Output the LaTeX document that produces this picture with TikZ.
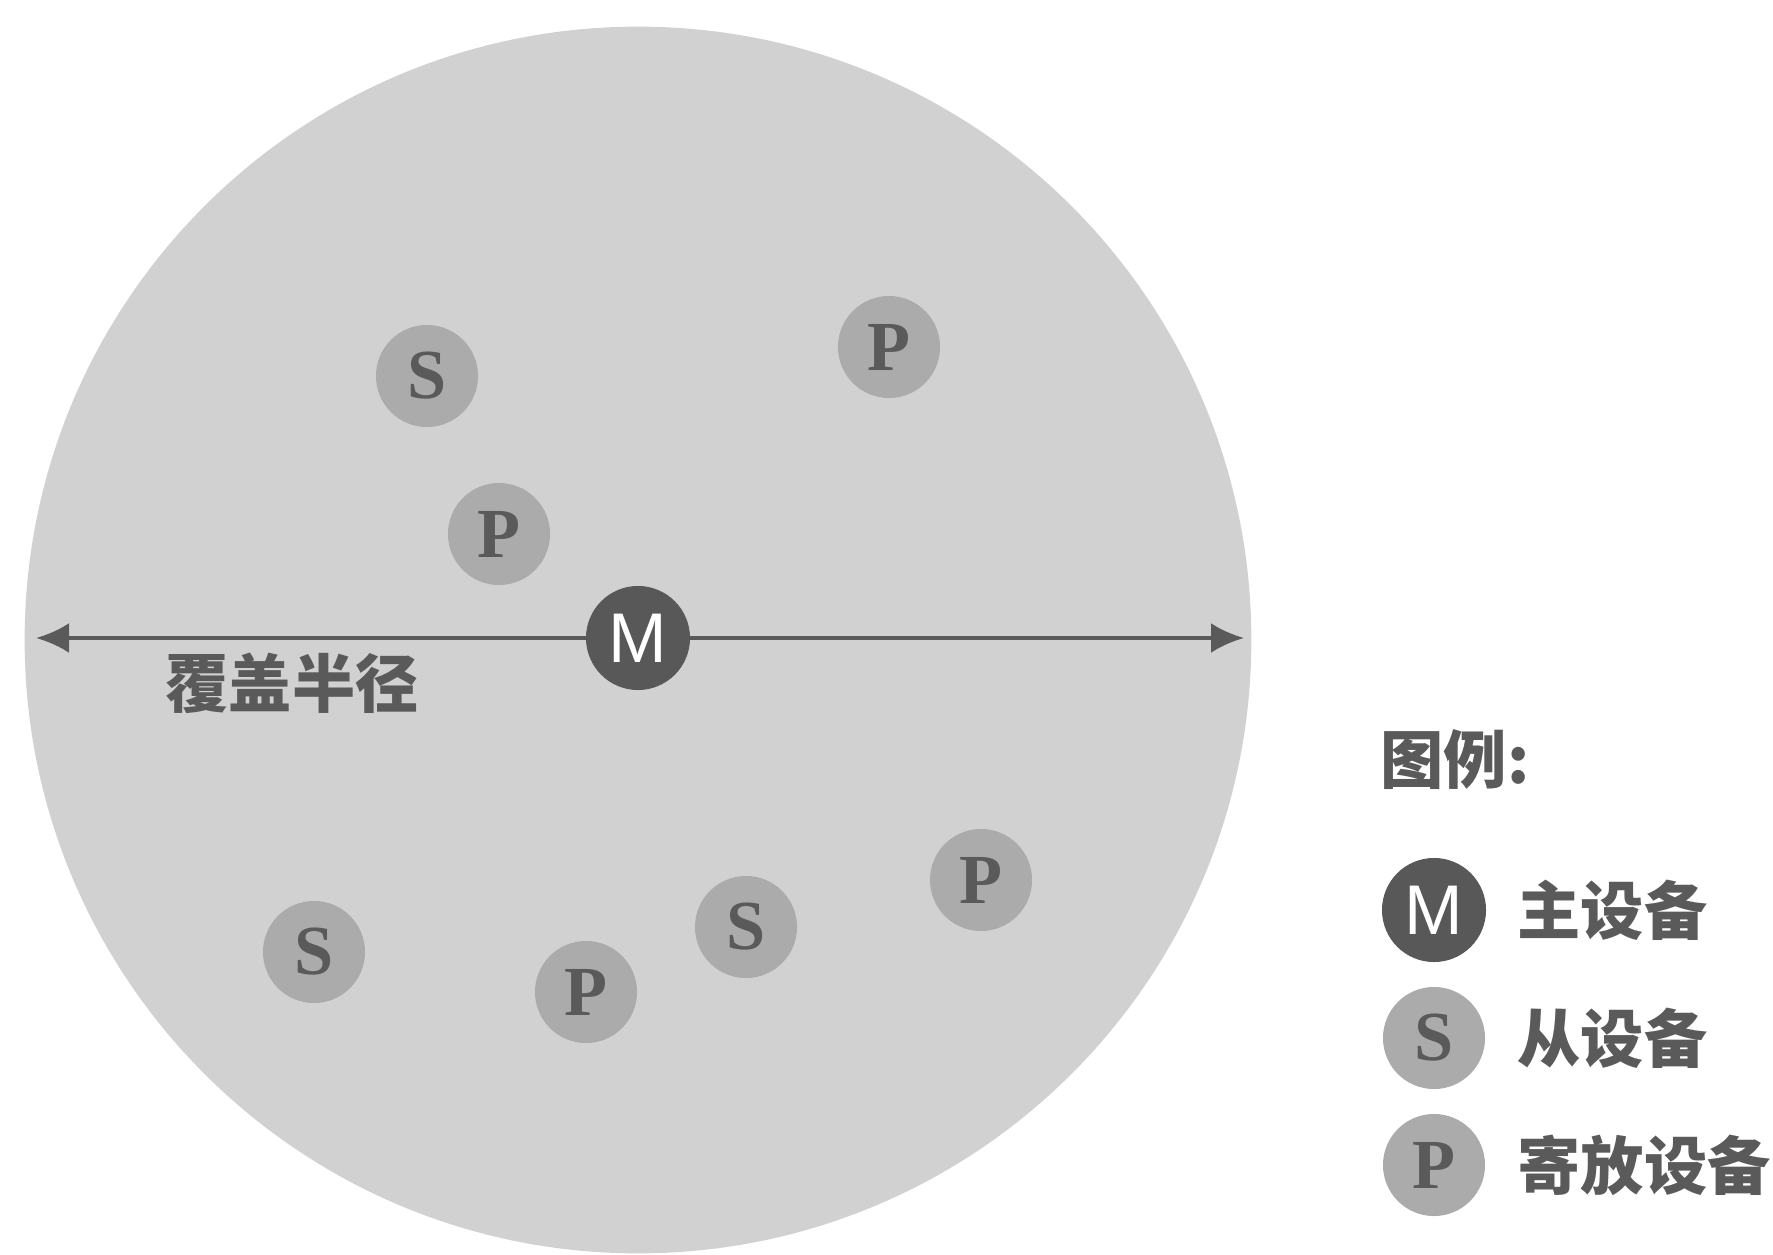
\documentclass[tikz,border=0pt]{standalone}
\usepackage{fontspec}
\setmainfont{Liberation Serif}
\setsansfont{Liberation Sans}
\newfontfamily\cjk{Noto Sans CJK SC}
\usetikzlibrary{arrows.meta}

\definecolor{areagray}{HTML}{D1D1D1}
\definecolor{devgray}{HTML}{ABABAB}
\definecolor{mastergray}{HTML}{585858}
\definecolor{inkgray}{HTML}{5A5A5A}

\tikzset{
  dev/.style={circle,fill=devgray,minimum size=1.02cm,inner sep=0pt,text=inkgray,font=\bfseries\fontsize{20}{20}\selectfont},
  master/.style={circle,fill=mastergray,minimum size=1.04cm,inner sep=0pt,text=white,font=\sffamily\fontsize{20}{20}\selectfont},
  cjktext/.style={text=inkgray,font=\cjk\bfseries\fontsize{18}{18}\selectfont},
}

\begin{document}
\begin{tikzpicture}[x=0.01cm,y=-0.01cm,>={Latex[length=3.3mm,width=3mm]}]
\useasboundingbox (0,0) rectangle (1773,1255);

% coverage area
\node[circle,fill=areagray,minimum size=12.26cm,inner sep=0pt] (area) at (638,640) {};

% radius arrow
\coordinate (west) at (36,638);
\coordinate (east) at (1244,638);
\draw[<->,inkgray,line width=1.2pt] (west) -- (east);
\node[cjktext] (radius) at (292,683) {覆盖半径};

% devices
\node[master] (M) at (638,638) {M};
\node[dev] (S1) at (427,376) {S};
\node[dev] (P1) at (889,347) {P};
\node[dev] (P2) at (499,534) {P};
\node[dev] (S2) at (314,952) {S};
\node[dev] (P3) at (586,992) {P};
\node[dev] (S3) at (746,927) {S};
\node[dev] (P4) at (981,880) {P};

% legend
\node[cjktext,anchor=west] (legend) at (1368,760) {图例:};
\node[master] (LM) at (1434,910) {M};
\node[dev] (LS) at (1434,1038) {S};
\node[dev] (LP) at (1434,1165) {P};
\node[cjktext,anchor=west] (tM) at (1505,910) {主设备};
\node[cjktext,anchor=west] (tS) at (1505,1038) {从设备};
\node[cjktext,anchor=west] (tP) at (1505,1165) {寄放设备};
\end{tikzpicture}
\end{document}
